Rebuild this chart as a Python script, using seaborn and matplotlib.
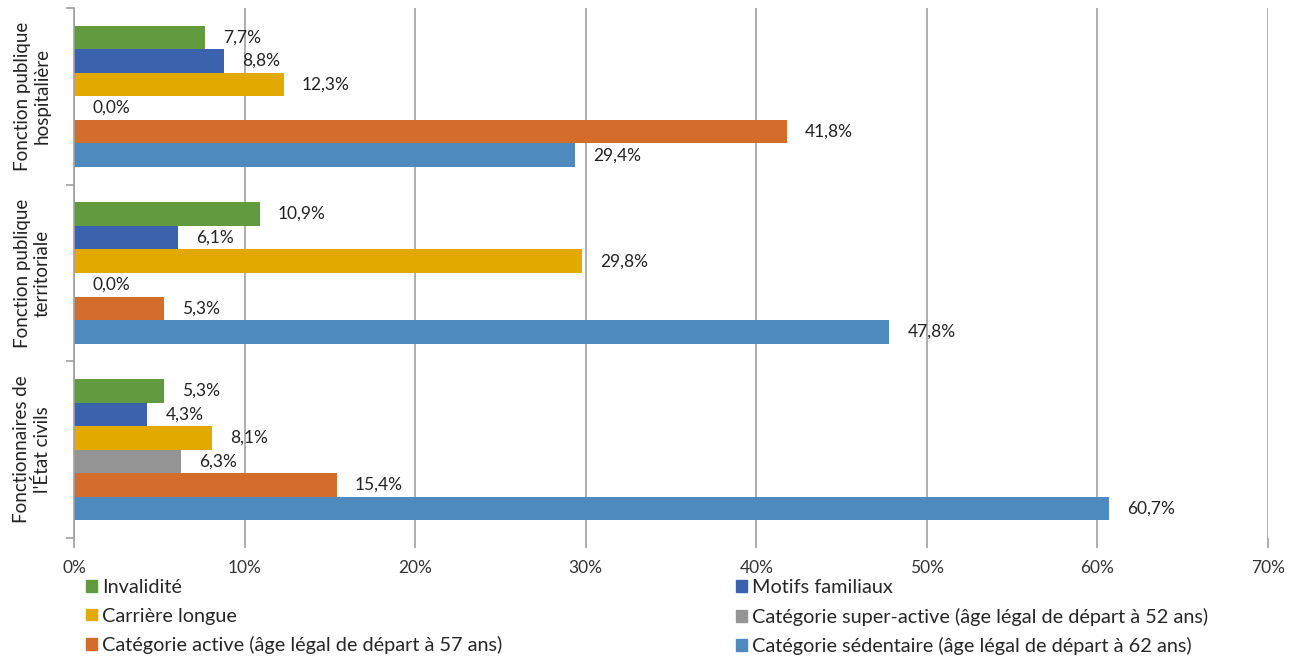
import matplotlib
matplotlib.use("Agg")
import matplotlib.pyplot as plt
from matplotlib.patches import Patch
import seaborn as sns
import pandas as pd

groups = ["Fonction publique\nhospitalière", "Fonction publique\nterritoriale", "Fonctionnaires de\nl'État civils"]
series = ["Invalidité", "Motifs familiaux", "Carrière longue",
          "Catégorie super-active (âge légal de départ à 52 ans)",
          "Catégorie active (âge légal de départ à 57 ans)",
          "Catégorie sédentaire (âge légal de départ à 62 ans)"]
invalidite = [7.7, 10.9, 5.3]
motifs_familiaux = [8.8, 6.1, 4.3]
carriere_longue = [12.3, 29.8, 8.1]
super_active = [0.0, 0.0, 6.3]
active = [41.8, 5.3, 15.4]
sedentaire = [29.4, 47.8, 60.7]
xticks = [0, 10, 20, 30, 40, 50, 60, 70]
xtick_labels = ["0%", "10%", "20%", "30%", "40%", "50%", "60%", "70%"]

colors = ["#629B3F", "#3B63AD", "#E2AA00", "#959595", "#D46D2B", "#4F8ABF"]

values = [invalidite, motifs_familiaux, carriere_longue, super_active, active, sedentaire]
rows = []
for s, vals in zip(series, values):
    for g, v in zip(groups, vals):
        rows.append({"groupe": g, "serie": s, "valeur": v})
df = pd.DataFrame(rows)

sns.set_theme(style="white")
plt.rcParams["font.family"] = ["Lato", "DejaVu Sans"]

fig = plt.figure(figsize=(12.98, 6.57), dpi=100)
ax = fig.add_axes([74/1298, 1-538/657, 1194/1298, 530/657])

sns.barplot(data=df, y="groupe", x="valeur", hue="serie", order=groups,
            hue_order=series, palette=colors, orient="h", width=0.8,
            saturation=1, legend=False, ax=ax, linewidth=0)

for cont, vals in zip(ax.containers, values):
    labels = [f"{v:.1f}%".replace(".", ",") for v in vals]
    ax.bar_label(cont, labels=labels, padding=13, fontsize=12.5, color="#222222")

ax.set_xlim(0, 70)
ax.set_ylim(2.5, -0.5)
ax.set_xticks(xticks)
ax.set_xticklabels(xtick_labels, fontsize=12.5, color="#333333")
ax.xaxis.grid(True, color="#A0A0A0", linewidth=1.2)
ax.set_axisbelow(True)
ax.set_xlabel("")
ax.set_ylabel("")
for sp in ["top", "right", "bottom"]:
    ax.spines[sp].set_visible(False)
ax.spines["left"].set_color("#A0A0A0")
ax.spines["left"].set_linewidth(1.2)

ax.set_yticks([0, 1, 2])
ax.set_yticklabels(groups, rotation=90, va="center", ha="center",
                   multialignment="center", fontsize=13.5, color="#222222")
ax.tick_params(axis="y", length=0, pad=30)
ax.set_yticks([-0.5, 0.5, 1.5, 2.5], minor=True)
ax.tick_params(axis="y", which="minor", length=6, color="#A0A0A0", width=1.2, left=True)
ax.tick_params(axis="x", length=7, color="#A0A0A0", width=1.2, bottom=True, pad=9)

h = [Patch(color=c) for c in colors]
leg_kw = dict(frameon=False, fontsize=14.3, handlelength=0.55, handleheight=0.55,
              handletextpad=0.25, labelspacing=0.58, borderaxespad=0, borderpad=0)
fig.legend([h[0], h[2], h[4]], [series[0], series[2], series[4]],
           loc="upper left", bbox_to_anchor=(86/1298, 1-579/657), **leg_kw)
fig.legend([h[1], h[3], h[5]], [series[1], series[3], series[5]],
           loc="upper left", bbox_to_anchor=(736/1298, 1-579/657), **leg_kw)

fig.savefig("out.png", dpi=100)
